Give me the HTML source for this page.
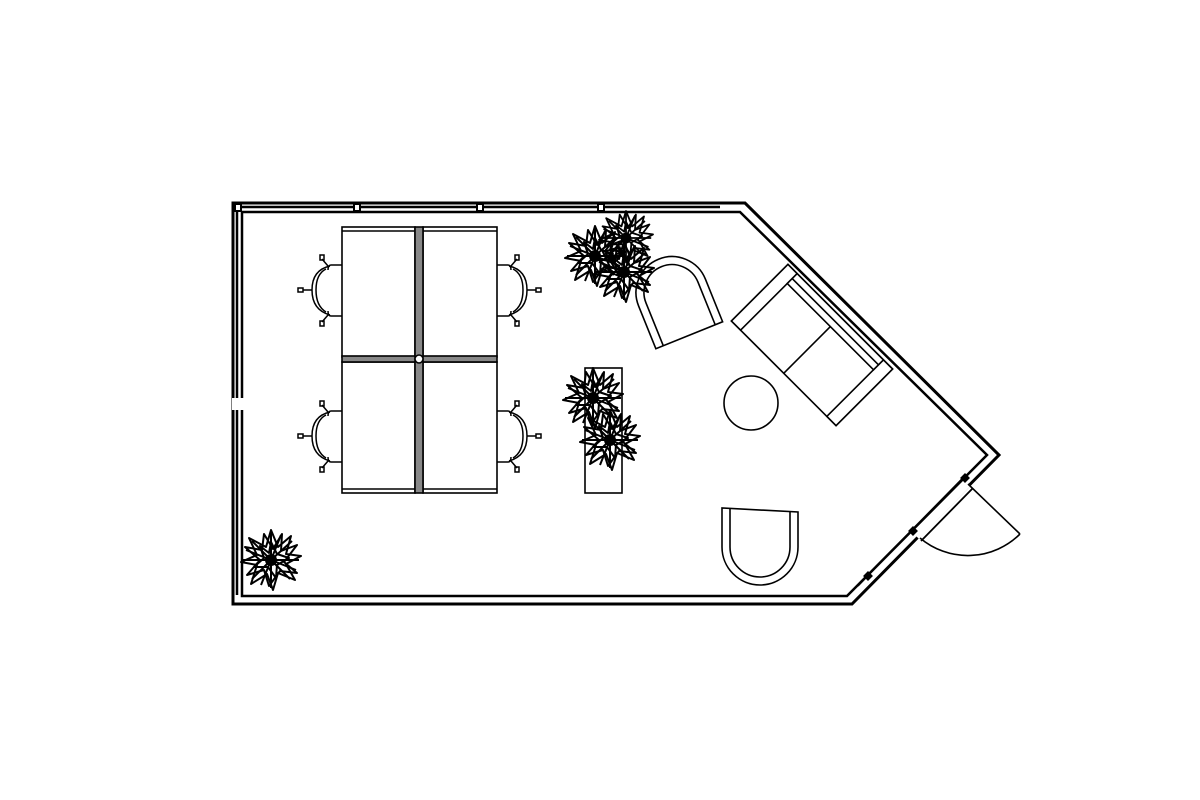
<!DOCTYPE html>
<html><head><meta charset="utf-8"><style>html,body{margin:0;padding:0;background:#fff}svg{display:block}</style></head>
<body>
<svg width="1200" height="800" viewBox="0 0 1200 800" xmlns="http://www.w3.org/2000/svg">
<defs>
<g id="plant" fill="none" stroke="#000" stroke-width="2" stroke-linejoin="round">
<polygon points="0,-30 7,-13 20,-24 15,-6 30,-4 15,4 24,20 7,13 2,30 -4,14 -20,24 -14,5 -30,2 -14,-5 -22,-22 -5,-13"/>
<polygon points="11,-26 10,-9 26,-15 13,2 26,13 9,11 -2,26 -7,10 -24,15 -11,0 -26,-13 -9,-10 -7,-26 2,-11" />
<polygon points="0,-18 6,-6 18,-2 6,5 5,18 -3,7 -17,7 -7,-2 -11,-14 -2,-7"/>
<path d="M0,0L0,-28M0,0L21,-19M0,0L28,0M0,0L19,19M0,0L0,28M0,0L-19,19M0,0L-28,0M0,0L-19,-19M0,0L10,-25M0,0L-10,25M0,0L25,10M0,0L-25,-10"/>
<circle cx="0" cy="0" r="5" fill="#000"/>
</g>
</defs>
<g fill="none" stroke="#000" stroke-width="2.5">
<path d="M233,203 L745,203 L999,455 L852,604 L233,604 Z" stroke-width="3"/>
<path d="M242,212 L740,212 L987,455 L847,596 L242,596 Z" stroke-width="2.5"/>
</g>
<g stroke="#000" fill="none">
<line x1="242" y1="207" x2="720" y2="207" stroke-width="2.5"/>
<rect x="235" y="204" width="6" height="7" fill="#fff" stroke-width="2"/>
<rect x="354" y="204" width="6" height="7" fill="#fff" stroke-width="2"/>
<rect x="477" y="204" width="6" height="7" fill="#fff" stroke-width="2"/>
<rect x="598" y="204" width="6" height="7" fill="#fff" stroke-width="2"/>
<line x1="237" y1="212" x2="237" y2="595" stroke-width="2.5"/>
<rect x="232" y="398" width="12" height="12" fill="#fff" stroke="none"/>
</g>
<g fill="#fff" stroke="#000" stroke-width="1.6">
<rect x="342" y="227" width="73" height="130"/>
<rect x="423" y="227" width="74" height="130"/>
<rect x="342" y="362" width="73" height="131"/>
<rect x="423" y="362" width="74" height="131"/>
<line x1="342" y1="231" x2="415" y2="231"/><line x1="423" y1="231" x2="497" y2="231"/>
<line x1="342" y1="489" x2="415" y2="489"/><line x1="423" y1="489" x2="497" y2="489"/>
<rect x="342" y="356" width="155" height="6" fill="#888"/>
<rect x="415" y="227" width="8" height="266" fill="#888"/>
<circle cx="419" cy="359" r="4" fill="#fff"/>
</g>
<g id="chL" fill="none" stroke="#000" stroke-width="1.5">
<path d="M342,265 L331,265 Q328,265 328,270 M342,316 L331,316 Q328,316 328,311"/>
<path d="M330,266 Q312,270 312,290 Q312,310 330,315"/>
<path d="M326,269 Q316,274 316,290 Q316,306 326,312"/>
<path d="M312,290 L303,290"/><rect x="298" y="288" width="5" height="4"/>
<path d="M328,266 L322,259"/><rect x="320" y="255" width="4" height="5"/>
<path d="M328,315 L322,322"/><rect x="320" y="321" width="4" height="5"/>
</g>
<use href="#chL" transform="translate(0,146)"/>
<use href="#chL" transform="translate(839,0) scale(-1,1)"/>
<use href="#chL" transform="translate(839,146) scale(-1,1)"/>
<rect x="585" y="368" width="37" height="125" fill="none" stroke="#000" stroke-width="1.6"/>
<g transform="translate(675,300) rotate(-22)" fill="#fff" stroke="#000" stroke-width="1.6">
<path d="M-36,38 L-36,-8 A36,36 0 0 1 36,-8 L36,38 Z"/>
<path d="M-28,38 L-28,-8 A28,28 0 0 1 28,-8 L28,38" fill="none"/>
</g>
<g transform="translate(760,545)" fill="#fff" stroke="#000" stroke-width="1.6">
<path d="M-38,-37 L-38,2 A38,38 0 0 0 38,2 L38,-33 Z"/>
<path d="M-30,-37 L-30,2 A30,30 0 0 0 30,2 L30,-33" fill="none"/>
</g>
<g transform="translate(812,345) rotate(45)" fill="#fff" stroke="#000" stroke-width="1.6">
<rect x="-74" y="-40" width="148" height="80"/>
<rect x="-74" y="-40" width="13" height="80"/>
<rect x="61" y="-40" width="13" height="80"/>
<rect x="-61" y="-40" width="122" height="14"/>
<line x1="-61" y1="-33" x2="61" y2="-33"/>
<line x1="0" y1="-26" x2="0" y2="40"/>
</g>
<circle cx="751" cy="403" r="27" fill="none" stroke="#000" stroke-width="1.6"/>
<g stroke="#000" fill="none">
<line x1="968" y1="483" x2="916" y2="536" stroke="#fff" stroke-width="8"/>
<line x1="963" y1="478" x2="911" y2="531" stroke-width="1.8"/>
<line x1="973" y1="488" x2="921" y2="541" stroke-width="1.8"/>
<line x1="968" y1="484" x2="1020" y2="534" stroke-width="1.6"/>
<path d="M1020,534 A74,74 0 0 1 920,538" stroke-width="1.6"/>
<line x1="911" y1="531" x2="858" y2="586" stroke-width="1.5"/>
<rect x="962" y="475" width="6" height="6" fill="#000" transform="rotate(45 965 478)"/>
<rect x="910" y="528" width="6" height="6" fill="#000" transform="rotate(45 913 531)"/>
<rect x="865" y="573" width="6" height="6" fill="#000" transform="rotate(45 868 576)"/>
</g>
<use href="#plant" transform="translate(595,256)"/>
<use href="#plant" transform="translate(626,238) scale(0.9)"/>
<use href="#plant" transform="translate(624,272)"/>
<use href="#plant" transform="translate(593,398)"/>
<use href="#plant" transform="translate(610,440)"/>
<use href="#plant" transform="translate(271,560)"/>
</svg>
</body></html>
